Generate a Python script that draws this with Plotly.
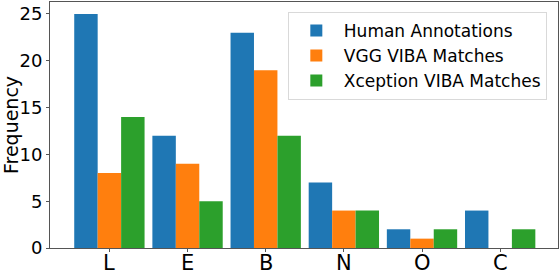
import plotly.graph_objects as go

categories = ["L", "E", "B", "N", "O", "C"]
human = [25, 12, 23, 7, 2, 4]
vgg = [8, 9, 19, 4, 1, 0]
xception = [14, 5, 12, 4, 2, 2]

series = [
    ("Human Annotations", human, "#1f77b4"),
    ("VGG VIBA Matches", vgg, "#ff7f0e"),
    ("Xception VIBA Matches", xception, "#2ca02c"),
]

fig = go.Figure()
for i, (name, vals, col) in enumerate(series):
    fig.add_trace(go.Bar(x=categories, y=vals, name=name, marker_color=col,
                         marker_line_width=0, legendgroup=f"g{i}"))

font = "DejaVu Sans"
# category labels under the axis (as annotations so they sit as close as in the reference)
for c in categories:
    fig.add_annotation(x=c, xref="x", y=0, yref="paper", yanchor="top", yshift=-1,
                       text=c, showarrow=False, font=dict(size=21, family=font, color="black"))

fig.update_layout(
    width=560, height=272,
    margin=dict(l=50, r=2, t=2, b=24),
    paper_bgcolor="white", plot_bgcolor="white",
    barmode="group", bargap=0.1, bargroupgap=0,
    font=dict(family=font, color="black"),
    showlegend=True,
    legend=dict(x=0.978, y=0.96, xanchor="right", yanchor="top",
                bgcolor="rgba(255,255,255,0.8)", bordercolor="#d9d9d9", borderwidth=1,
                font=dict(size=17, family=font), itemwidth=45, tracegroupgap=0),
)
fig.update_xaxes(range=[-0.76, 5.74], showline=True, mirror=True, linecolor="#555555",
                 linewidth=1, ticks="outside", ticklen=3, tickcolor="#555555",
                 automargin=False, showticklabels=False, showgrid=False)
fig.update_yaxes(range=[0, 26.28], showline=True, mirror=True, linecolor="#555555",
                 linewidth=1, ticks="outside", ticklen=3, tickcolor="#555555",
                 tickvals=[0, 5, 10, 15, 20, 25], automargin=False,
                 tickfont=dict(size=18, family=font), showgrid=False, zeroline=False,
                 title=dict(text="Frequency", font=dict(size=19, family=font), standoff=4))

fig.write_html("out.html", config={"displayModeBar": False},
               post_script="document.body.style.margin='0';")
